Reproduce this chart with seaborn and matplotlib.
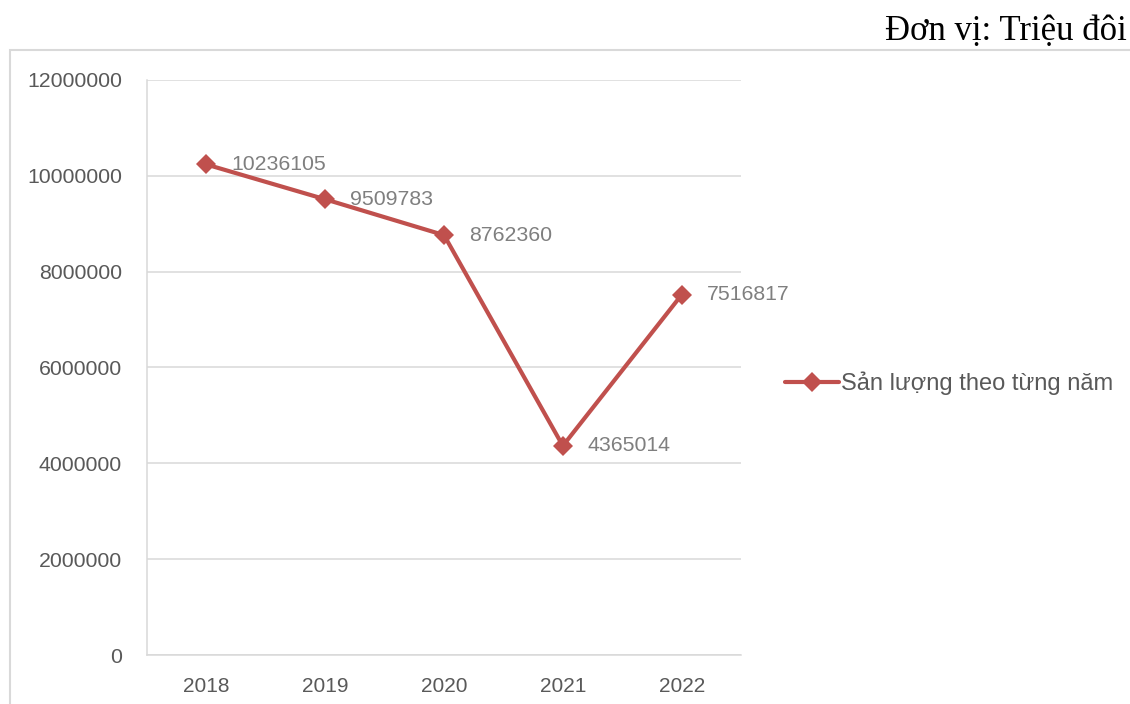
import matplotlib
matplotlib.use('Agg')
import matplotlib.pyplot as plt
import matplotlib.patches as mpatches
import seaborn as sns
import pandas as pd

sns.set_style("white")
plt.rcParams['font.family'] = ['Liberation Sans', 'DejaVu Sans']

# chart data
years = ['2018', '2019', '2020', '2021', '2022']
output = [10236105, 9509783, 8762360, 4365014, 7516817]
series_name = 'Sản lượng theo từng năm'
unit_text = 'Đơn vị: Triệu đôi'
y_ticks = [0, 2000000, 4000000, 6000000, 8000000, 10000000, 12000000]

df = pd.DataFrame({'year': years, 'value': output})

line_color = '#C0504D'
grid_color = '#D9D9D9'
tick_color = '#595959'
label_color = '#7F7F7F'

fig = plt.figure(figsize=(11.3, 7.04), dpi=100)
ax = fig.add_axes([0.1301, 0.0696, 0.5257, 0.8168])

sns.lineplot(data=df, x='year', y='value', ax=ax, color=line_color,
             linewidth=3, marker='D', markersize=10, markeredgewidth=0,
             label=series_name, sort=False)

# data labels to the right of each point
for i, v in enumerate(output):
    ax.annotate(f'{v}', (i, v), xytext=(18, 0), textcoords='offset points',
                va='center', ha='left', fontsize=15.3, color=label_color)

ax.set_xlim(-0.5, 4.5)
ax.set_ylim(0, 12000000)
ax.set_yticks(y_ticks)
ax.set_yticklabels([str(t) for t in y_ticks])
ax.set_xlabel('')
ax.set_ylabel('')
ax.grid(axis='y', color=grid_color, linewidth=1.1)
ax.set_axisbelow(True)
ax.tick_params(axis='y', length=0, pad=18, labelsize=15.3, labelcolor=tick_color)
ax.tick_params(axis='x', length=0, pad=15.5, labelsize=15, labelcolor=tick_color)

for side in ['top', 'right']:
    ax.spines[side].set_visible(False)
for side in ['left', 'bottom']:
    ax.spines[side].set_color(grid_color)
    ax.spines[side].set_linewidth(1.1)

leg = ax.legend(loc='center left', bbox_to_anchor=(0.684, 0.455),
                bbox_transform=fig.transFigure, frameon=False, fontsize=17,
                handlelength=2.3, handletextpad=0.1, borderpad=0)
for t in leg.get_texts():
    t.set_color(tick_color)

# chart outer border
border = mpatches.Rectangle((10 / 1130, -0.05), 1.2, (704 - 50) / 704 + 0.05,
                            transform=fig.transFigure, fill=False,
                            edgecolor=grid_color, linewidth=1.5)
fig.patches.append(border)

fig.text(0.9975, 0.955, unit_text, ha='right', va='center', fontsize=25,
         family=['Liberation Serif', 'DejaVu Serif'], color='black')

fig.savefig('out.png', dpi=100)
